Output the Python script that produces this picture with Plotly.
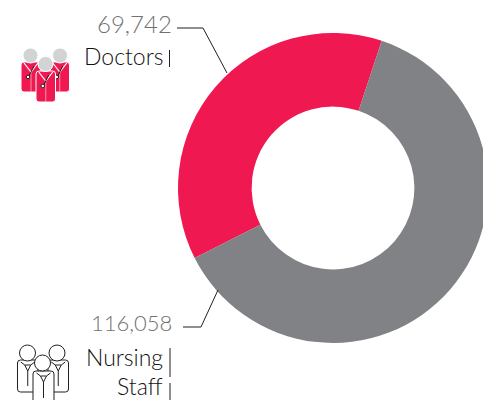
import plotly.graph_objects as go

labels = ["Doctors", "Nursing Staff"]
values = [69742, 116058]
value_labels = ["69,742", "116,058"]
colors = ["#f01850", "#808285"]

W, H = 490, 400
FONT = "Lato"
DARK = "#111111"
GREY = "#6f7174"
RED = "#f01850"


def px(x):
    return x / W


def py(y):
    return 1 - y / H


def path(points, closed=False):
    s = "M " + " L ".join(f"{px(x):.5f},{py(y):.5f}" for x, y in points)
    return s + (" Z" if closed else "")


def line(points, color="#231f20", width=1):
    return dict(type="path", xref="paper", yref="paper", path=path(points),
                line=dict(color=color, width=width), layer="above")


def circle(cx, cy, r, fill, color, width=1):
    return dict(type="circle", xref="paper", yref="paper",
                x0=px(cx - r), x1=px(cx + r), y0=py(cy + r), y1=py(cy - r),
                fillcolor=fill, line=dict(color=color, width=width), layer="above")


def rrect(x0, y0, x1, y1, fill, color, width=1):
    r = 3
    s = (f"M {px(x0+r):.5f},{py(y0):.5f} L {px(x1-r):.5f},{py(y0):.5f} "
         f"Q {px(x1):.5f},{py(y0):.5f} {px(x1):.5f},{py(y0+r):.5f} "
         f"L {px(x1):.5f},{py(y1-r):.5f} Q {px(x1):.5f},{py(y1):.5f} {px(x1-r):.5f},{py(y1):.5f} "
         f"L {px(x0+r):.5f},{py(y1):.5f} Q {px(x0):.5f},{py(y1):.5f} {px(x0):.5f},{py(y1-r):.5f} "
         f"L {px(x0):.5f},{py(y0+r):.5f} Q {px(x0):.5f},{py(y0):.5f} {px(x0+r):.5f},{py(y0):.5f} Z")
    return dict(type="path", xref="paper", yref="paper", path=s, fillcolor=fill,
                line=dict(color=color, width=width), layer="above")


shapes = [
    line([(177, 28), (203, 28), (227, 73)]),
    line([(183, 327), (201, 327), (218, 290)]),
    line([(169.5, 50), (169.5, 67)]),
    line([(170, 348), (170, 377)]),
    line([(170, 383), (170, 400)]),
]

# Doctors icon: (body left, body right, top, bottom, head x, head y)
for x0, x1, top, bottom, cx, cy in [(21, 41, 62, 92, 30.5, 55.5),
                                    (50, 69.5, 62, 92, 60, 55.5),
                                    (36, 55.5, 71, 102, 45.5, 64)]:
    mid = (x0 + x1) / 2
    shapes.append(rrect(x0, top, x1, bottom, RED, "white", 1))
    shapes.append(line([(mid, top + 10), (mid, bottom)], "#f8b0c4", 0.8))
    shapes.append(line([(mid - 7, top + 1), (mid, top + 10), (mid + 7, top + 1)], "white", 1.2))
    shapes.append(line([(mid + 3, top + 4), (mid - 2, top + 14)], "#231f20", 1))
    shapes.append(circle(mid - 3, top + 15, 1.8, "white", "#231f20", 1))
    shapes.append(circle(cx, cy, 7.5, "#d1d3d4", "white", 1))

# Nursing icon
for x0, x1, top, bottom, cx, cy in [(17.5, 38, 360, 392, 27.5, 353),
                                    (48, 68.5, 360, 392, 57, 353),
                                    (33, 54, 371, 404, 42.5, 363)]:
    mid = (x0 + x1) / 2
    shapes.append(rrect(x0, top, x1, bottom, "white", "#231f20", 1))
    shapes.append(line([(mid - 7, top + 2), (mid - 3, top + 5), (mid, top + 11),
                        (mid + 3, top + 5), (mid + 7, top + 2)], "#231f20", 1))
    shapes.append(line([(mid - 3, top + 5), (mid + 3, top + 5)], "#231f20", 1))
    shapes.append(line([(mid, top + 11), (mid, bottom - 6)], "#231f20", 1))
    shapes.append(circle(cx, cy, 8, "white", "#231f20", 1))


def text(x, y, s, color, size=23):
    return dict(x=px(x), y=py(y), xref="paper", yref="paper", text=s, showarrow=False,
                xanchor="right", yanchor="middle",
                font=dict(family=FONT, size=size, color=color, weight=300))


annotations = [
    text(174, 23, value_labels[0], GREY, 24),
    text(165, 56, "Doctors", DARK),
    text(174, 322, value_labels[1], GREY, 22),
    text(165, 357, "Nursing", DARK),
    text(165, 386, "Staff", DARK),
]

fig = go.Figure(go.Pie(
    labels=labels, values=values, sort=False, direction="clockwise", rotation=-116.8,
    hole=0.525, marker=dict(colors=colors, line=dict(width=0)), textinfo="none",
    hoverinfo="label+value", showlegend=False,
    domain=dict(x=[px(178), px(488)], y=[py(343), py(33)]),
))
fig.update_layout(width=W, height=H, margin=dict(l=0, r=0, t=0, b=0),
                  paper_bgcolor="white", shapes=shapes, annotations=annotations)
fig.write_html("out.html", config=dict(displayModeBar=False),
               post_script="document.documentElement.style.overflow='hidden';document.body.style.overflow='hidden';document.body.style.margin='0';")
